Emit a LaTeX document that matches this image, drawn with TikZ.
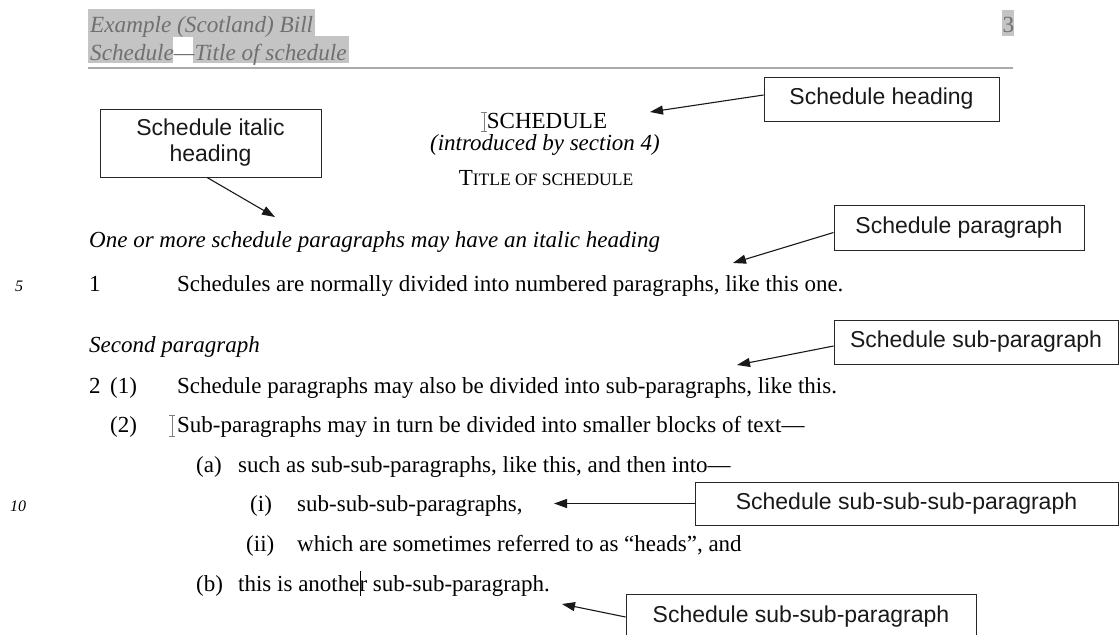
\documentclass[tikz,border=0pt]{standalone}
\usepackage{fontspec}
\setmainfont{Liberation Serif}
\newfontfamily\calloutfont{Liberation Sans}
\usetikzlibrary{arrows.meta}

\definecolor{hdrtext}{RGB}{112,112,112}
\definecolor{hdrmark}{RGB}{196,196,196}
\definecolor{rulegray}{RGB}{170,170,170}
\definecolor{beamgray}{RGB}{125,125,125}
\definecolor{boxline}{RGB}{40,40,40}

% small capitals faked at a reduced size
\newcommand\smallcapsfake[1]{{\fontsize{17.5}{20}\selectfont #1}}

\begin{document}
\begin{tikzpicture}[x=1pt,y=-1pt,
  body/.style={anchor=base west,inner sep=0pt,font=\fontsize{23}{27}\selectfont},
  bodyit/.style={body,font=\fontsize{23}{27}\selectfont\itshape},
  hdr/.style={anchor=base west,inner sep=0pt,text=hdrtext,font=\fontsize{23.2}{27}\selectfont\itshape},
  lineno/.style={anchor=base west,inner sep=0pt,font=\fontsize{16}{18}\selectfont\itshape},
  callout/.style={draw=boxline,line width=0.9pt,fill=white,inner sep=0pt,align=center,
    text=black!90,font=\calloutfont\fontsize{23}{26}\selectfont},
  callarrow/.style={draw=black!90,line width=1.1pt,-{Triangle[length=13pt,width=9pt]}},
  ibeam/.style={draw=beamgray,line width=1pt},
]
% page
\fill[white] (0,0) rectangle (1120,635);
\clip (0,0) rectangle (1120,635);

% running header
\fill[hdrmark] (88,9) rectangle (315,36);
\fill[hdrmark] (88,36) rectangle (349,63);
\fill[white] (173,37) rectangle (193,63);
\fill[hdrmark] (1002,10) rectangle (1014,36);
\node[hdr] (bill) at (90,32) {Example (Scotland) Bill};
\node[hdr] (schedtitle) at (90,60) {Schedule—Title of schedule};
\node[anchor=base west,inner sep=0pt,text=hdrtext,font=\fontsize{23.2}{27}\selectfont] (pageno) at (1002.5,32) {3};
\draw[rulegray,line width=1.6pt] (88,68) -- (1013,68);

% schedule heading block
\node[body,anchor=base] (sched) at (547,128) {SCHEDULE};
\draw[ibeam] (484,112) -- (484,131) (481,112) -- (487,112) (481,131) -- (487,131);
\node[bodyit,anchor=base] (intro) at (545,150) {(introduced by section 4)};
\node[body,anchor=base] (title) at (546,185) {T\smallcapsfake{ITLE OF SCHEDULE}};

% paragraphs
\node[bodyit] (ihead) at (89,247) {One or more schedule paragraphs may have an italic heading};
\node[lineno] (ln5) at (15,291) {5};
\node[body] (p1) at (89,291) {1};
\node[body] (p1text) at (177,291) {Schedules are normally divided into numbered paragraphs, like this one.};

\node[bodyit] (ihead2) at (89,352) {Second paragraph};
\node[body] (p2) at (89,393) {2};
\node[body] (sp1) at (110,393) {(1)};
\node[body] (sp1text) at (177,393) {Schedule paragraphs may also be divided into sub-paragraphs, like this.};
\node[body] (sp2) at (110,432) {(2)};
\draw[ibeam] (172,415) -- (172,436) (169,415) -- (175,415) (169,436) -- (175,436);
\node[body] (sp2text) at (177,432) {Sub-paragraphs may in turn be divided into smaller blocks of text—};
\node[body] (ssa) at (196,472) {(a)};
\node[body] (ssatext) at (238,472) {such as sub-sub-paragraphs, like this, and then into—};
\node[lineno] (ln10) at (10,511) {10};
\node[body] (sssi) at (250,511) {(i)};
\node[body] (sssitext) at (297,511) {sub-sub-sub-paragraphs,};
\node[body] (sssii) at (246,551) {(ii)};
\node[body] (sssiitext) at (297,551) {which are sometimes referred to as “heads”, and};
\node[body] (ssb) at (196,591) {(b)};
\node[body] (ssbtext) at (238,591) {this is anothe\rlap{\rule[-5pt]{0.9pt}{25pt}}r sub-sub-paragraph.};

% callouts
\node[callout,minimum width=235pt,minimum height=44pt] (cHead) at (881.5,99) {Schedule heading};
\node[callout,minimum width=221pt,minimum height=68pt] (cItal) at (210.5,143) {Schedule italic\\heading};
\node[callout,minimum width=250pt,minimum height=45pt] (cPara) at (959,227.5) {Schedule paragraph};
\node[callout,minimum width=284pt,minimum height=44pt] (cSub) at (976,342) {Schedule sub-paragraph};
\node[callout,minimum width=423pt,minimum height=43pt] (cSubSubSub) at (906.5,503.5) {Schedule sub-sub-sub-paragraph};
\node[callout,minimum width=350pt,minimum height=46pt] (cSubSub) at (801,617) {Schedule sub-sub-paragraph};

% arrow targets
\coordinate (tHead) at (650,112);
\coordinate (tItal) at (275,217);
\coordinate (tPara) at (733,263);
\coordinate (tSub) at (737,365);
\coordinate (tSubSubSub) at (554,503.5);
\coordinate (tSubSub) at (562,604);

\draw[callarrow] ([yshift=4pt]cHead.west) -- (tHead);
\draw[callarrow] ([xshift=-3.5pt]cItal.south) -- (tItal);
\draw[callarrow] ([yshift=-5pt]cPara.west) -- (tPara);
\draw[callarrow] ([yshift=-4pt]cSub.west) -- (tSub);
\draw[callarrow] (cSubSubSub.west) -- (tSubSubSub);
\draw[callarrow] (cSubSub.west) -- (tSubSub);
\end{tikzpicture}
\end{document}
